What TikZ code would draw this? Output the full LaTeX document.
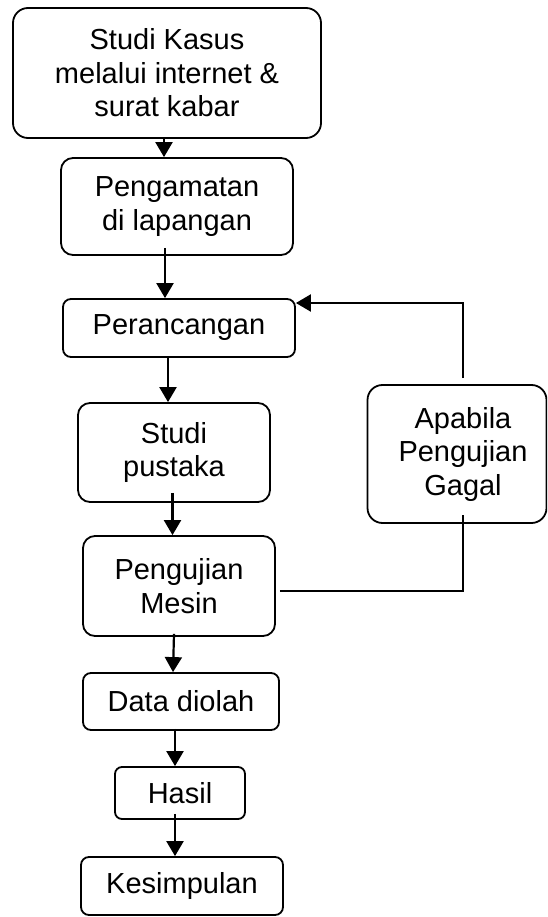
\documentclass[tikz,border=0pt]{standalone}
\usepackage{fontspec}
\setmainfont{Liberation Sans}
\usetikzlibrary{arrows.meta}
\begin{document}
\begin{tikzpicture}[x=1pt,y=-1pt,
  box/.style={draw, line width=1.8pt, inner sep=0pt, align=center,
    font=\fontsize{29}{33.5}\selectfont},
  arr/.style={line width=2.2pt, -{Triangle[width=17pt,length=15pt]}},
  conn/.style={line width=2.2pt}]
\useasboundingbox (0,0) rectangle (547,917);
\clip (0,0) rectangle (547,917);
\node[box, rounded corners=15pt, minimum width=308pt, minimum height=130pt] (b1) at (167,73)
  {Studi Kasus\\melalui internet \&\\surat kabar};
\node[box, rounded corners=12pt, minimum width=232pt, minimum height=97pt] (b2) at (177,206.5)
  {Pengamatan\\di lapangan};
\node[box, rounded corners=8pt, minimum width=232pt, minimum height=58pt] (b3) at (179,328)
  {Perancangan};
\node[box, rounded corners=12pt, minimum width=192pt, minimum height=99pt] (b4) at (174,452.5)
  {Studi\\pustaka};
\node[box, rounded corners=15pt, minimum width=179pt, minimum height=138pt] (b5) at (457,454)
  {\hspace*{12pt}Apabila\\\hspace*{12pt}Pengujian\\\hspace*{12pt}Gagal};
\node[box, rounded corners=12pt, minimum width=192pt, minimum height=100pt] (b6) at (179,586)
  {Pengujian\\Mesin};
\node[box, rounded corners=8pt, minimum width=196pt, minimum height=57pt] (b7) at (181,701.5)
  {Data diolah};
\node[box, rounded corners=7pt, minimum width=130pt, minimum height=52pt] (b8) at (180,793)
  {Hasil};
\node[box, rounded corners=8pt, minimum width=202pt, minimum height=58pt] (b9) at (182,886)
  {Kesimpulan};
\coordinate (fbA) at (463,515);
\coordinate (fbB) at (463,378);
\draw[arr] ([xshift=-3pt]b1.south) -- ([xshift=-13pt]b2.north);
\draw[arr] ([xshift=-12pt,yshift=8pt]b2.south) -- ([xshift=-14pt]b3.north);
\draw[arr] ([xshift=-11pt]b3.south) -- ([xshift=-6pt]b4.north);
\draw[arr] ([xshift=-1.5pt,yshift=10pt]b4.south) -- ([xshift=-6.5pt]b6.north);
\draw[arr] ([xshift=-5pt,yshift=3pt]b6.south) -- ([xshift=-8pt]b7.north);
\draw[arr] ([xshift=-6pt,yshift=2pt]b7.south) -- ([xshift=-5pt]b8.north);
\draw[arr] ([xshift=-5pt,yshift=6pt]b8.south) -- ([xshift=-7pt]b9.north);
\draw[conn] ([xshift=4pt,yshift=-5pt]b6.east) -| (fbA);
\draw[arr] (fbB) |- ([yshift=25pt]b3.east);
\end{tikzpicture}
\end{document}
